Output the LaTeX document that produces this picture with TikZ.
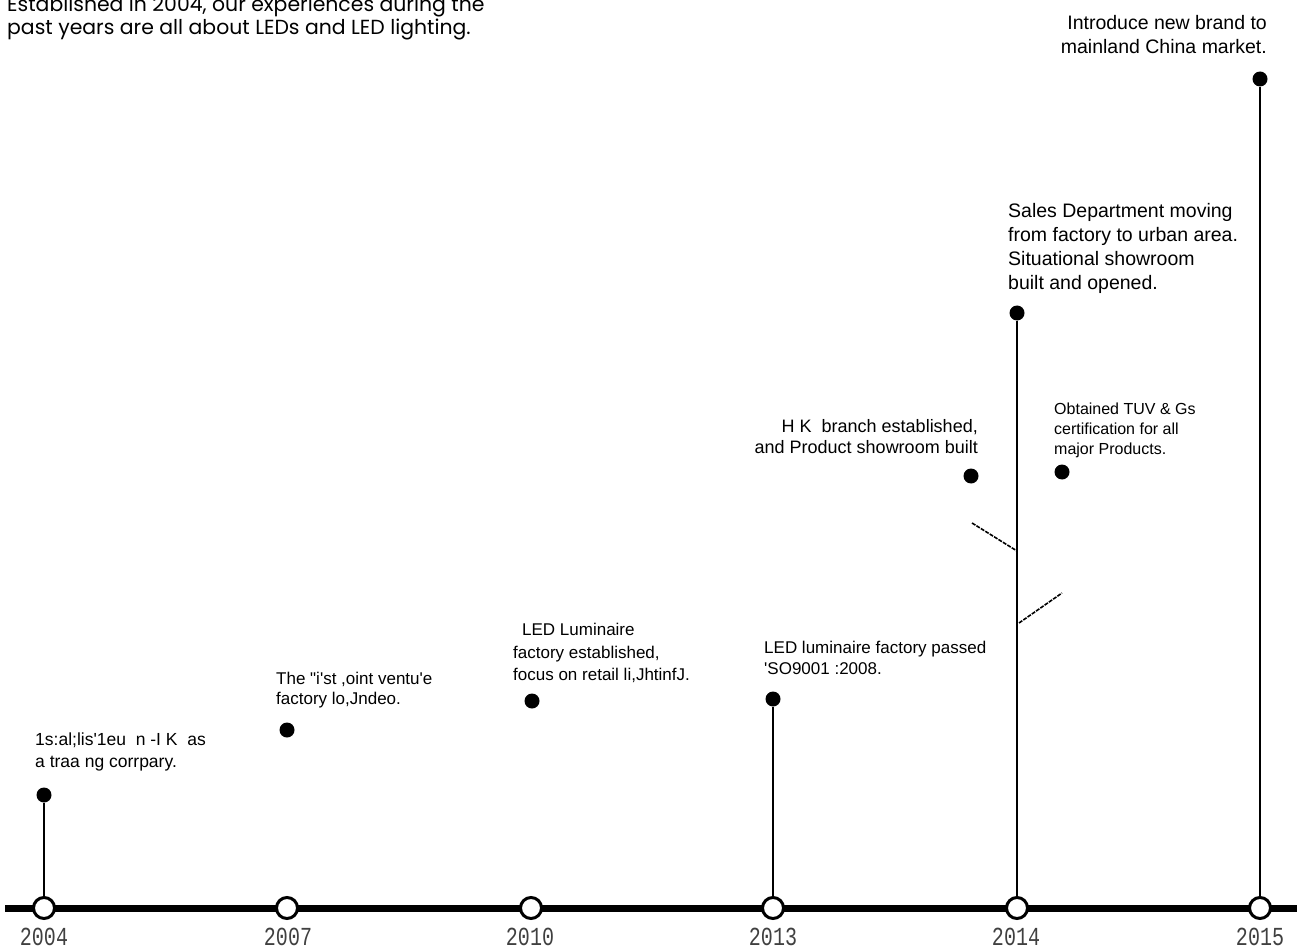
\documentclass[tikz,border=0pt]{standalone}
\usepackage{fontspec}
\setmainfont{Liberation Sans}[Ligatures=TeXOff]
\newfontfamily\yearfont{Liberation Mono}
\newfontfamily\introfont{Poppins}
\begin{document}
\begin{tikzpicture}[x=1pt,y=-1pt,
  fs/.style 2 args={font=\fontsize{#1}{#2}\selectfont},
  txtl/.style={inner sep=0pt, align=left, anchor=north west},
  txtr/.style={inner sep=0pt, align=right, anchor=north east},
  yearc/.style={circle, draw=black, line width=3pt, fill=white, minimum size=21pt, inner sep=0pt},
  evdot/.style={circle, fill=black, minimum size=15pt, inner sep=0pt},
  stem/.style={draw=black, line width=2pt},
  branch/.style={draw=black, line width=1.6pt, dash pattern=on 4pt off 1.2pt},
  axis/.style={draw=black, line width=7pt},
  yearlbl/.style={inner sep=0pt, font=\yearfont\fontsize{26}{28}\selectfont, text=black!75},
  intro/.style={inner sep=0pt, anchor=base west, font=\introfont\fontsize{20.4}{22}\selectfont}
]
\useasboundingbox (0,0) rectangle (1297,949);
\clip (0,0) rectangle (1297,949);

% intro text (top line cut off)
\node[intro] (introA) at (7,12) {Established in 2004, our experiences during the};
\node[intro] (introB) at (7,35) {past years are all about LEDs and LED lighting.};

% axis
\coordinate (axL) at (5,908);
\coordinate (axR) at (1300,908);
\draw[axis] (axL) -- (axR);

% year circles
\node[yearc] (c2004) at (44,908) {};
\node[yearc] (c2007) at (287,908) {};
\node[yearc] (c2010) at (531,908) {};
\node[yearc] (c2013) at (773,908) {};
\node[yearc] (c2014) at (1017,908) {};
\node[yearc] (c2015) at (1260,908) {};

% year labels
\node[yearlbl] (y2004) at (44,937) {\scalebox{0.77}[1]{2004}};
\node[yearlbl] (y2007) at (288,937) {\scalebox{0.77}[1]{2007}};
\node[yearlbl] (y2010) at (530,937) {\scalebox{0.77}[1]{2010}};
\node[yearlbl] (y2013) at (773,937) {\scalebox{0.77}[1]{2013}};
\node[yearlbl] (y2014) at (1016,937) {\scalebox{0.77}[1]{2014}};
\node[yearlbl] (y2015) at (1260,937) {\scalebox{0.77}[1]{2015}};

% event dots
\node[evdot] (d2004) at (44,795) {};
\node[evdot] (d2007) at (287,730) {};
\node[evdot] (d2010) at (532,701) {};
\node[evdot] (d2013) at (773,699) {};
\node[evdot] (d2014) at (1017,313) {};
\node[evdot] (d2015) at (1260,79) {};
\node[evdot] (dHK) at (971,476) {};
\node[evdot] (dTUV) at (1062,472) {};

% stems
\draw[stem] (d2004) -- (c2004);
\draw[stem] (d2013) -- (c2013);
\draw[stem] (d2014) -- (c2014);
\draw[stem] (d2015) -- (c2015);

% branches
\coordinate (bL1) at (972,523);
\coordinate (bL2) at (1017,551);
\coordinate (bR1) at (1019,623);
\coordinate (bR2) at (1062,593);
\draw[branch] (bL1) -- (bL2);
\draw[branch] (bR1) -- (bR2);

% texts
\node[txtr, fs={19.5}{24}] (t2015) at (1267,15) {Introduce new brand to\\mainland China market.};
\node[txtl, fs={19.5}{24}] (t2014) at (1008,203) {Sales Department moving\\from factory to urban area.\\Situational showroom\\built and opened.};
\node[txtr, fs={18}{21}] (tHK) at (978,419) {H K\ \ branch established,\\and Product showroom built};
\node[txtl, fs={16}{20}] (tTUV) at (1054,403) {Obtained TUV \& Gs\\certification for all\\major Products.};
\node[txtl, fs={17}{21}] (t2013) at (764,641) {LED luminaire factory passed\\'SO9001 :2008.};
\node[txtl, fs={17}{22.5}] (t2010) at (513,623) {\hspace*{9pt}LED Luminaire\\factory established,\\focus on retail li,JhtinfJ.};
\node[txtl, fs={17}{20}] (t2007) at (276,672) {The "i'st ,oint ventu'e\\factory lo,Jndeo.};
\node[txtl, fs={17.5}{22}] (t2004) at (35,733) {1s:al;lis'1eu\ \ n -I K\ \ as\\a traa ng corrpary.};
\end{tikzpicture}
\end{document}
